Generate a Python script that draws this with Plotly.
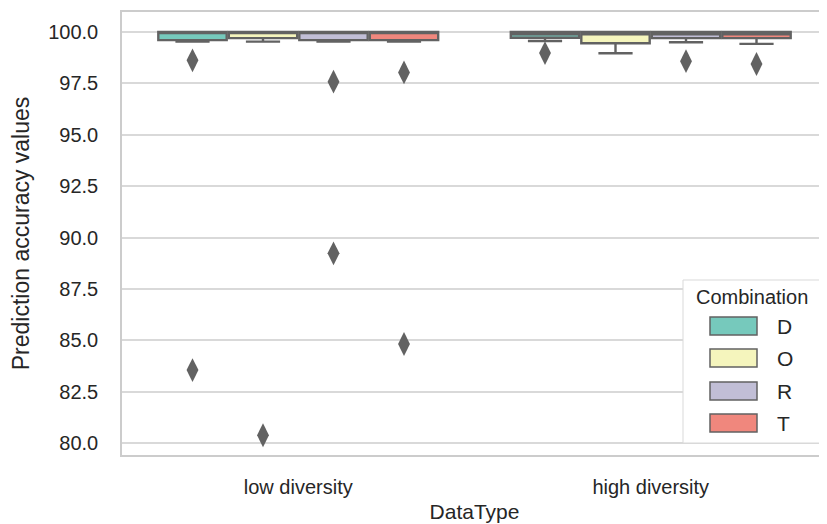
import plotly.graph_objects as go

categories = ["low diversity", "high diversity"]
combos = ["D", "O", "R", "T"]
colors = ["rgb(118,201,188)", "rgb(245,245,189)", "rgb(193,190,214)", "rgb(240,135,125)"]

# box statistics per combination: [low diversity, high diversity]
q1 = {"D": [99.6, 99.72], "O": [99.7, 99.45], "R": [99.6, 99.7], "T": [99.6, 99.7]}
median = {"D": [100.0, 99.88], "O": [99.95, 99.88], "R": [99.95, 99.88], "T": [100.0, 99.88]}
q3 = {"D": [100.0, 100.0], "O": [100.0, 100.0], "R": [100.0, 100.0], "T": [100.0, 100.0]}
lowerfence = {"D": [99.53, 99.56], "O": [99.53, 98.96], "R": [99.53, 99.5], "T": [99.53, 99.42]}
upperfence = {"D": [100.0, 100.0], "O": [100.0, 100.0], "R": [100.0, 100.0], "T": [100.0, 100.0]}

# outliers per combination: list of (category index, value)
outliers = {
    "D": [(0, 98.62), (0, 83.55), (1, 98.97)],
    "O": [(0, 80.38)],
    "R": [(0, 97.58), (0, 89.23), (1, 98.58)],
    "T": [(0, 98.03), (0, 84.82), (1, 98.44)],
}

edge = "rgb(98,98,98)"
group_width = 0.8
n = len(combos)
bw = group_width / n

# page body has an 8px margin; figure sized so the plot lands where the reference has it
OFF = 8
W, H = 819, 516
ML, MR, MT, MB = 114, 0, 4, 69
PW, PH = W - ML - MR, H - MT - MB


def px(x):
    return (x - OFF - ML) / PW


def py(y):
    return (H - MB - (y - OFF)) / PH


fig = go.Figure()
for i, c in enumerate(combos):
    off = -group_width / 2 + bw * (i + 0.5)
    xs = [k + off for k in range(len(categories))]
    fig.add_trace(go.Box(
        name=c, x=xs, q1=q1[c], median=median[c], q3=q3[c],
        lowerfence=lowerfence[c], upperfence=upperfence[c],
        width=bw * 0.97, whiskerwidth=0.5,
        fillcolor=colors[i], line=dict(color=edge, width=2.4),
        boxpoints=False, legendgroup=c, showlegend=False,
    ))
    ox = [k + off for k, v in outliers[c]]
    oy = [v for k, v in outliers[c]]
    fig.add_trace(go.Scatter(
        x=ox, y=oy, mode="markers", legendgroup=c, showlegend=False,
        marker=dict(symbol="diamond-tall", size=17, color=edge, line=dict(width=0)),
        hoverinfo="y",
    ))

font = "Liberation Sans, Arial, sans-serif"

# manual legend (patches + text)
shapes = [dict(type="rect", xref="paper", yref="paper",
               x0=px(683), x1=px(822), y0=py(443), y1=py(280),
               line=dict(color="#d9d9d9", width=1), fillcolor="white", layer="above")]
annotations = [dict(text="Combination", xref="paper", yref="paper", x=px(752), y=py(297),
                    showarrow=False, font=dict(size=20, color="#262626"),
                    xanchor="center", yanchor="middle")]
ys = [326, 358, 391, 423]
for i, c in enumerate(combos):
    shapes.append(dict(type="rect", xref="paper", yref="paper",
                       x0=px(710), x1=px(757), y0=py(ys[i] + 9), y1=py(ys[i] - 9),
                       line=dict(color=edge, width=1.5), fillcolor=colors[i], layer="above"))
    annotations.append(dict(text=c, xref="paper", yref="paper", x=px(775), y=py(ys[i]),
                            showarrow=False, font=dict(size=21, color="#262626"),
                            xanchor="left", yanchor="middle"))

fig.update_layout(
    width=W, height=H,
    margin=dict(l=ML, r=MR, t=MT, b=MB),
    paper_bgcolor="white", plot_bgcolor="white",
    boxmode="overlay", showlegend=False,
    font=dict(family=font, size=20, color="#262626"),
    shapes=shapes, annotations=annotations,
    xaxis=dict(
        range=[-0.5, 1.5], tickvals=list(range(len(categories))), ticktext=categories,
        showgrid=False, zeroline=False, showline=True, linecolor="#cccccc", linewidth=1.5,
        mirror=True, ticks="", ticklabelstandoff=13, automargin=False,
        tickfont=dict(size=20),
        title=dict(text="DataType", font=dict(size=21), standoff=8),
    ),
    yaxis=dict(
        range=[79.42, 100.97], tickvals=[80, 82.5, 85, 87.5, 90, 92.5, 95, 97.5, 100],
        tickformat=".1f", showgrid=True, gridcolor="#d9d9d9", gridwidth=1.5,
        zeroline=False, showline=True, linecolor="#cccccc", linewidth=1.5, mirror=True,
        ticks="", ticklabelstandoff=18, automargin=False, tickfont=dict(size=20),
        title=dict(text="Prediction accuracy values", font=dict(size=23), standoff=12),
    ),
)

fig.write_html("out.html")
